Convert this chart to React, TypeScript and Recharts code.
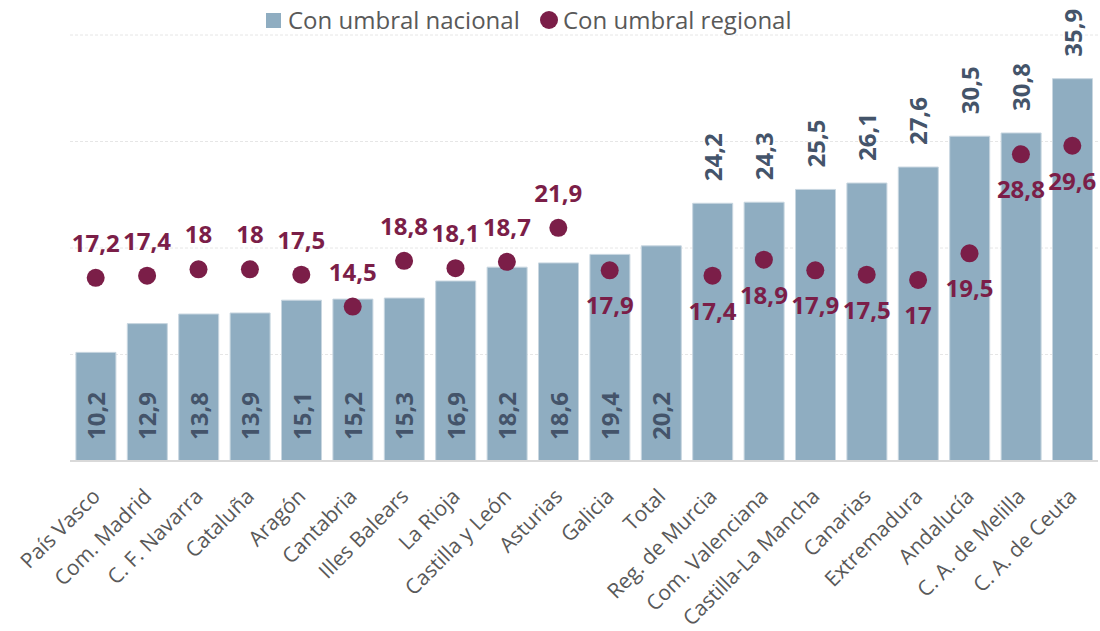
import React from 'react';
import { ComposedChart, Bar, Line, XAxis, YAxis, CartesianGrid, Legend, LabelList } from 'recharts';

const categories = ['País Vasco', 'Com. Madrid', 'C. F. Navarra', 'Cataluña', 'Aragón', 'Cantabria', 'Illes Balears', 'La Rioja', 'Castilla y León', 'Asturias', 'Galicia', 'Total', 'Reg. de Murcia', 'Com. Valenciana', 'Castilla-La Mancha', 'Canarias', 'Extremadura', 'Andalucía', 'C. A. de Melilla', 'C. A. de Ceuta'];
const nacional = [10.2, 12.9, 13.8, 13.9, 15.1, 15.2, 15.3, 16.9, 18.2, 18.6, 19.4, 20.2, 24.2, 24.3, 25.5, 26.1, 27.6, 30.5, 30.8, 35.9];
const regional: (number | null)[] = [17.2, 17.4, 18, 18, 17.5, 14.5, 18.8, 18.1, 18.7, 21.9, 17.9, null, 17.4, 18.9, 17.9, 17.5, 17, 19.5, 28.8, 29.6];
const yTicks = [0, 10, 20, 30, 40];

const data = categories.map((c, i) => ({ name: c, nacional: nacional[i], regional: regional[i] }));

const FONT = '"Open Sans", "Noto Sans", sans-serif';
const BAR_COLOR = '#8FADC1';
const DOT_COLOR = '#7B1E48';
const BAR_LABEL = '#44546A';

const fmt = (v: number) => String(v).replace('.', ',');

const BarLabel = (props: any) => {
  const { x, y, width, height, value } = props;
  if (value == null) return null;
  const cx = Number(x) + Number(width) / 2;
  const outside = value > 22;
  const ty = outside ? Number(y) - 22 : Number(y) + Number(height) - 21;
  const tx = cx + 9;
  return (
    <text x={tx} y={ty} transform={`rotate(-90, ${tx}, ${ty})`} textAnchor="start"
      fill={BAR_LABEL} fontSize={24} fontWeight={700} fontFamily={FONT}>
      {fmt(value)}
    </text>
  );
};

const DotLabel = (props: any) => {
  const { x, y, value, index } = props;
  if (value == null) return null;
  const above = index < 10;
  const ty = above ? Number(y) - 26 : Number(y) + 44;
  return (
    <text x={Number(x)} y={ty} textAnchor="middle" fill={DOT_COLOR} fontSize={24}
      fontWeight={700} fontFamily={FONT}>
      {fmt(value)}
    </text>
  );
};

const renderDot = (props: any) => {
  const { cx, cy, payload, index } = props;
  if (payload == null || payload.regional == null || cy == null || isNaN(cy)) return <g key={`d${index}`} />;
  return <circle key={`d${index}`} cx={cx} cy={cy} r={9} fill={DOT_COLOR} />;
};

const XTick = (props: any) => {
  const { x, y, payload } = props;
  const ty = Number(y) + 31;
  return (
    <text x={x} y={ty} transform={`rotate(-45, ${x}, ${ty})`} textAnchor="end"
      dominantBaseline="central" fill="#595959" fontSize={21} fontFamily={FONT}>
      {payload.value}
    </text>
  );
};

const LegendContent = () => (
  <div style={{ position: 'relative', width: 1100, height: 30, fontFamily: FONT }}>
    <div style={{ position: 'absolute', left: 266, top: 8, width: 15, height: 15, background: BAR_COLOR }} />
    <div style={{ position: 'absolute', left: 288, top: 0, height: 30, lineHeight: '30px', fontSize: 24, color: '#595959', whiteSpace: 'nowrap' }}>Con umbral nacional</div>
    <div style={{ position: 'absolute', left: 540, top: 6, width: 18, height: 18, borderRadius: 9, background: DOT_COLOR }} />
    <div style={{ position: 'absolute', left: 563, top: 0, height: 30, lineHeight: '30px', fontSize: 24, color: '#595959', whiteSpace: 'nowrap' }}>Con umbral regional</div>
  </div>
);

export default function App() {
  return (
    <div style={{ position: 'absolute', left: 0, top: 0, width: 1100, height: 631, background: '#fff' }}>
      <ComposedChart width={1100} height={631} data={data}
        margin={{ top: 5, right: 2, left: 70, bottom: 0 }} barCategoryGap="11.5%"
        style={{ fontFamily: FONT }}>
        <CartesianGrid vertical={false} stroke="#E6E6E6" strokeDasharray="3 2" />
        <YAxis hide domain={[0, 40]} ticks={yTicks} />
        <XAxis dataKey="name" interval={0} height={170} tickSize={0} tickMargin={0} tickLine={false}
          axisLine={{ stroke: '#D9D9D9', strokeWidth: 2 }} tick={<XTick />} />
        <Legend verticalAlign="top" align="left" content={<LegendContent />}
          wrapperStyle={{ position: 'absolute', top: 5, left: 0, width: 1100, height: 30 }} />
        <Bar dataKey="nacional" fill={BAR_COLOR} stroke="#C8D6E0" strokeWidth={1} isAnimationActive={false}>
          <LabelList dataKey="nacional" content={<BarLabel />} />
        </Bar>
        <Line dataKey="regional" stroke="none" strokeWidth={0} dot={renderDot} activeDot={false}
          connectNulls={false} isAnimationActive={false}>
          <LabelList dataKey="regional" content={<DotLabel />} />
        </Line>
      </ComposedChart>
    </div>
  );
}
